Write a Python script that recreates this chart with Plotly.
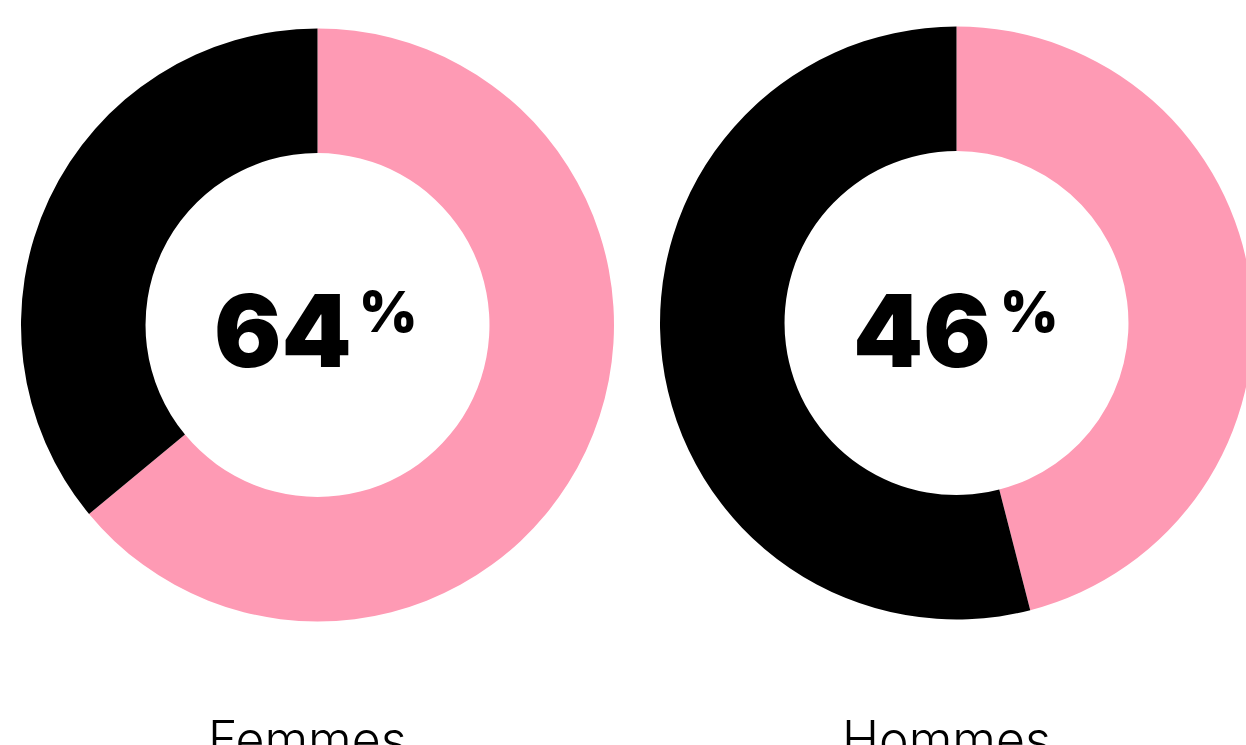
import plotly.graph_objects as go

# Data
groups = ["Femmes", "Hommes"]
share_yes = [64, 46]
share_no = [36, 54]
slice_labels = ["Oui", "Non"]

PINK = "#FE9AB4"
BLACK = "#000000"

W, H = 1260, 745

def px_x(v):
    return v / W

def px_y(v):
    return 1 - v / H

# donut geometry (pixels): centre x, centre y, radius
geo = [(317.5, 325.0, 296.5), (956.5, 323.0, 296.5)]

fig = go.Figure()
for i, g in enumerate(groups):
    cx, cy, r = geo[i]
    fig.add_trace(go.Pie(
        labels=slice_labels,
        values=[share_yes[i], share_no[i]],
        marker=dict(colors=[PINK, BLACK], line=dict(width=0)),
        hole=0.58,
        sort=False,
        direction="clockwise",
        rotation=0,
        textinfo="none",
        hoverinfo="skip",
        showlegend=False,
        domain=dict(x=[px_x(cx - r), px_x(cx + r)], y=[px_y(cy + r), px_y(cy - r)]),
    ))

# centre numbers
num_pos = [(282.5, 330), (922.5, 330)]
pct_pos = [(388, 312), (1029, 312)]
label_pos = [(307, 739), (946.5, 739)]
for i, g in enumerate(groups):
    nx, ny = num_pos[i]
    fig.add_annotation(x=px_x(nx), y=px_y(ny), xref="paper", yref="paper",
                       text=str(share_yes[i]), showarrow=False,
                       xanchor="center", yanchor="middle",
                       font=dict(family="Inter", size=100, color="#000", weight=900))
    qx, qy = pct_pos[i]
    fig.add_annotation(x=px_x(qx), y=px_y(qy), xref="paper", yref="paper",
                       text="%", showarrow=False,
                       xanchor="center", yanchor="middle",
                       font=dict(family="Inter", size=56, color="#000", weight=900))
    lx, ly = label_pos[i]
    fig.add_annotation(x=px_x(lx), y=px_y(ly), xref="paper", yref="paper",
                       text=g, showarrow=False,
                       xanchor="center", yanchor="middle",
                       font=dict(family="Inter", size=50, color="#000", weight=300))

fig.update_layout(
    width=W, height=H,
    margin=dict(l=0, r=0, t=0, b=0),
    paper_bgcolor="white",
    plot_bgcolor="white",
)

fig.write_html("out.html",
               config={"displayModeBar": False},
               post_script="document.body.style.margin='0';document.body.style.overflow='hidden';document.documentElement.style.overflow='hidden';")
